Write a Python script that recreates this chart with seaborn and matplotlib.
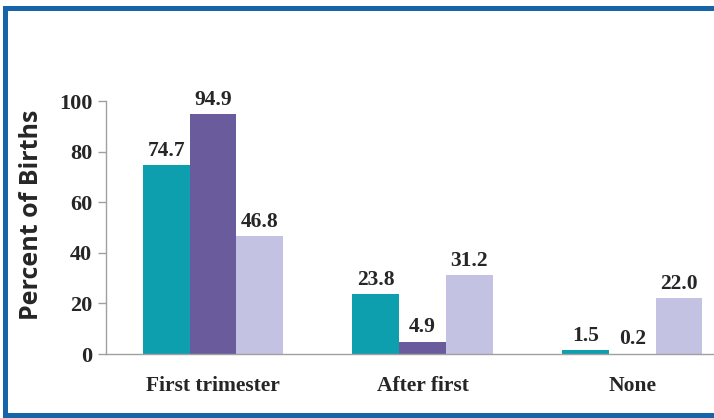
import pandas as pd
import seaborn as sns
import matplotlib.pyplot as plt
from matplotlib.patches import Rectangle

# Prenatal care start, percent of births by group
categories = ['First trimester', 'After first', 'None']
series_names = ['Group A', 'Group B', 'Group C']
group_a = [74.7, 23.8, 1.5]
group_b = [94.9, 4.9, 0.2]
group_c = [46.8, 31.2, 22.0]
colors = ['#0E9FAE', '#6A5B9D', '#C3C2E2']

data = pd.DataFrame({
    'care': categories * 3,
    'series': [s for s in series_names for _ in categories],
    'pct': group_a + group_b + group_c,
})

sns.set_style('white')
fig = plt.figure(figsize=(7.14, 4.18), dpi=100)
ax = fig.add_axes([0.1485, 0.153, 0.8515, 0.605])

sns.barplot(data=data, x='care', y='pct', hue='series', palette=colors,
            width=0.67, gap=0, saturation=1, edgecolor='none', ax=ax)
ax.legend().remove()

serif = ['Liberation Serif']
for cont in ax.containers:
    ax.bar_label(cont, fmt='%.1f', padding=3, fontsize=15.5, fontweight='bold',
                 family=serif)

ax.set_ylim(0, 100)
ax.set_xlim(-0.51, 2.39)
ax.set_yticks([0, 20, 40, 60, 80, 100])
ax.tick_params(axis='y', left=True, length=6, width=1, color='#a0a0a0', pad=4)
ax.tick_params(axis='x', bottom=False, pad=12)
for lab in ax.get_yticklabels():
    lab.set_fontfamily(serif)
    lab.set_fontweight('bold')
    lab.set_fontsize(16)
for lab in ax.get_xticklabels():
    lab.set_fontfamily(serif)
    lab.set_fontweight('bold')
    lab.set_fontsize(15.5)

ax.set_xlabel('')
ax.set_ylabel('Percent of Births', fontsize=18, fontweight='bold',
              family=['Open Sans'])
ax.yaxis.set_label_coords(-0.102, 0.55)
for side in ['top', 'right']:
    ax.spines[side].set_visible(False)
for side in ['left', 'bottom']:
    ax.spines[side].set_color('#a0a0a0')
    ax.spines[side].set_linewidth(1)

# blue frame around the panel
blue = '#1565A8'
fig.add_artist(Rectangle((3 / 714, 1 - 11 / 418), 1, 5 / 418,
                         transform=fig.transFigure, color=blue, lw=0))
fig.add_artist(Rectangle((3 / 714, 0), 5 / 714, 1 - 6 / 418,
                         transform=fig.transFigure, color=blue, lw=0))
fig.add_artist(Rectangle((3 / 714, 0), 1, 5 / 418,
                         transform=fig.transFigure, color=blue, lw=0))

plt.savefig('out.png', dpi=100)
